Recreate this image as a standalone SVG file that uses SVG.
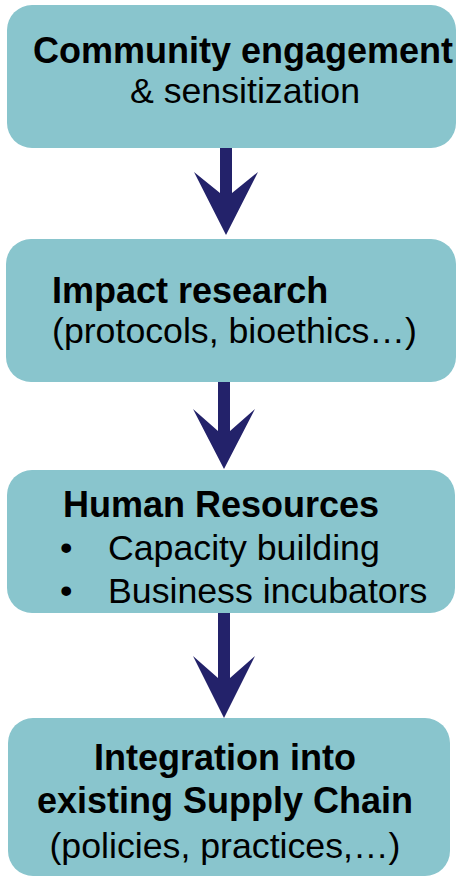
<svg xmlns="http://www.w3.org/2000/svg" width="456" height="878" viewBox="0 0 456 878">
<style>
.box{fill:#89c5cd;}
.arr{fill:#23226a;}
text{font-family:"Liberation Sans",Arial,sans-serif;fill:#000;}
.b{font-weight:bold;font-size:36px;}
.r{font-size:35.7px;}
</style>
<rect width="456" height="878" fill="#fff"/>
<g id="connectors">
<polygon class="arr" points="220,148 220,193 194,172 226,235 258,172 232,193 232,148"/>
<polygon class="arr" points="218,382 218,431 193,409 224,469 255,409 230,431 230,382"/>
<polygon class="arr" points="218,613 218,678 193,656 224,718 255,656 230,678 230,613"/>
</g>
<g id="node1">
<rect class="box" x="7" y="5" width="449" height="143" rx="25"/>
<text class="b" x="33" y="63">Community engagement</text>
<text class="r" x="245" y="103" text-anchor="middle">&amp; sensitization</text>
</g>
<g id="node2">
<rect class="box" x="6" y="239" width="450" height="143" rx="25"/>
<text class="b" x="52" y="303">Impact research</text>
<text class="r" x="52" y="343">(protocols, bioethics…)</text>
</g>
<g id="node3">
<rect class="box" x="7" y="470" width="448" height="143" rx="25"/>
<text class="b" x="63" y="517">Human Resources</text>
<text class="r" x="60" y="560">•</text>
<text class="r" x="108" y="560">Capacity building</text>
<text class="r" x="60" y="603">•</text>
<text class="r" x="108" y="603">Business incubators</text>
</g>
<g id="node4">
<rect class="box" x="8" y="718" width="442" height="158" rx="25"/>
<text class="b" x="225" y="770" text-anchor="middle">Integration into</text>
<text class="b" x="225" y="813" text-anchor="middle">existing Supply Chain</text>
<text class="r" x="225" y="858" text-anchor="middle">(policies, practices,…)</text>
</g>
</svg>
